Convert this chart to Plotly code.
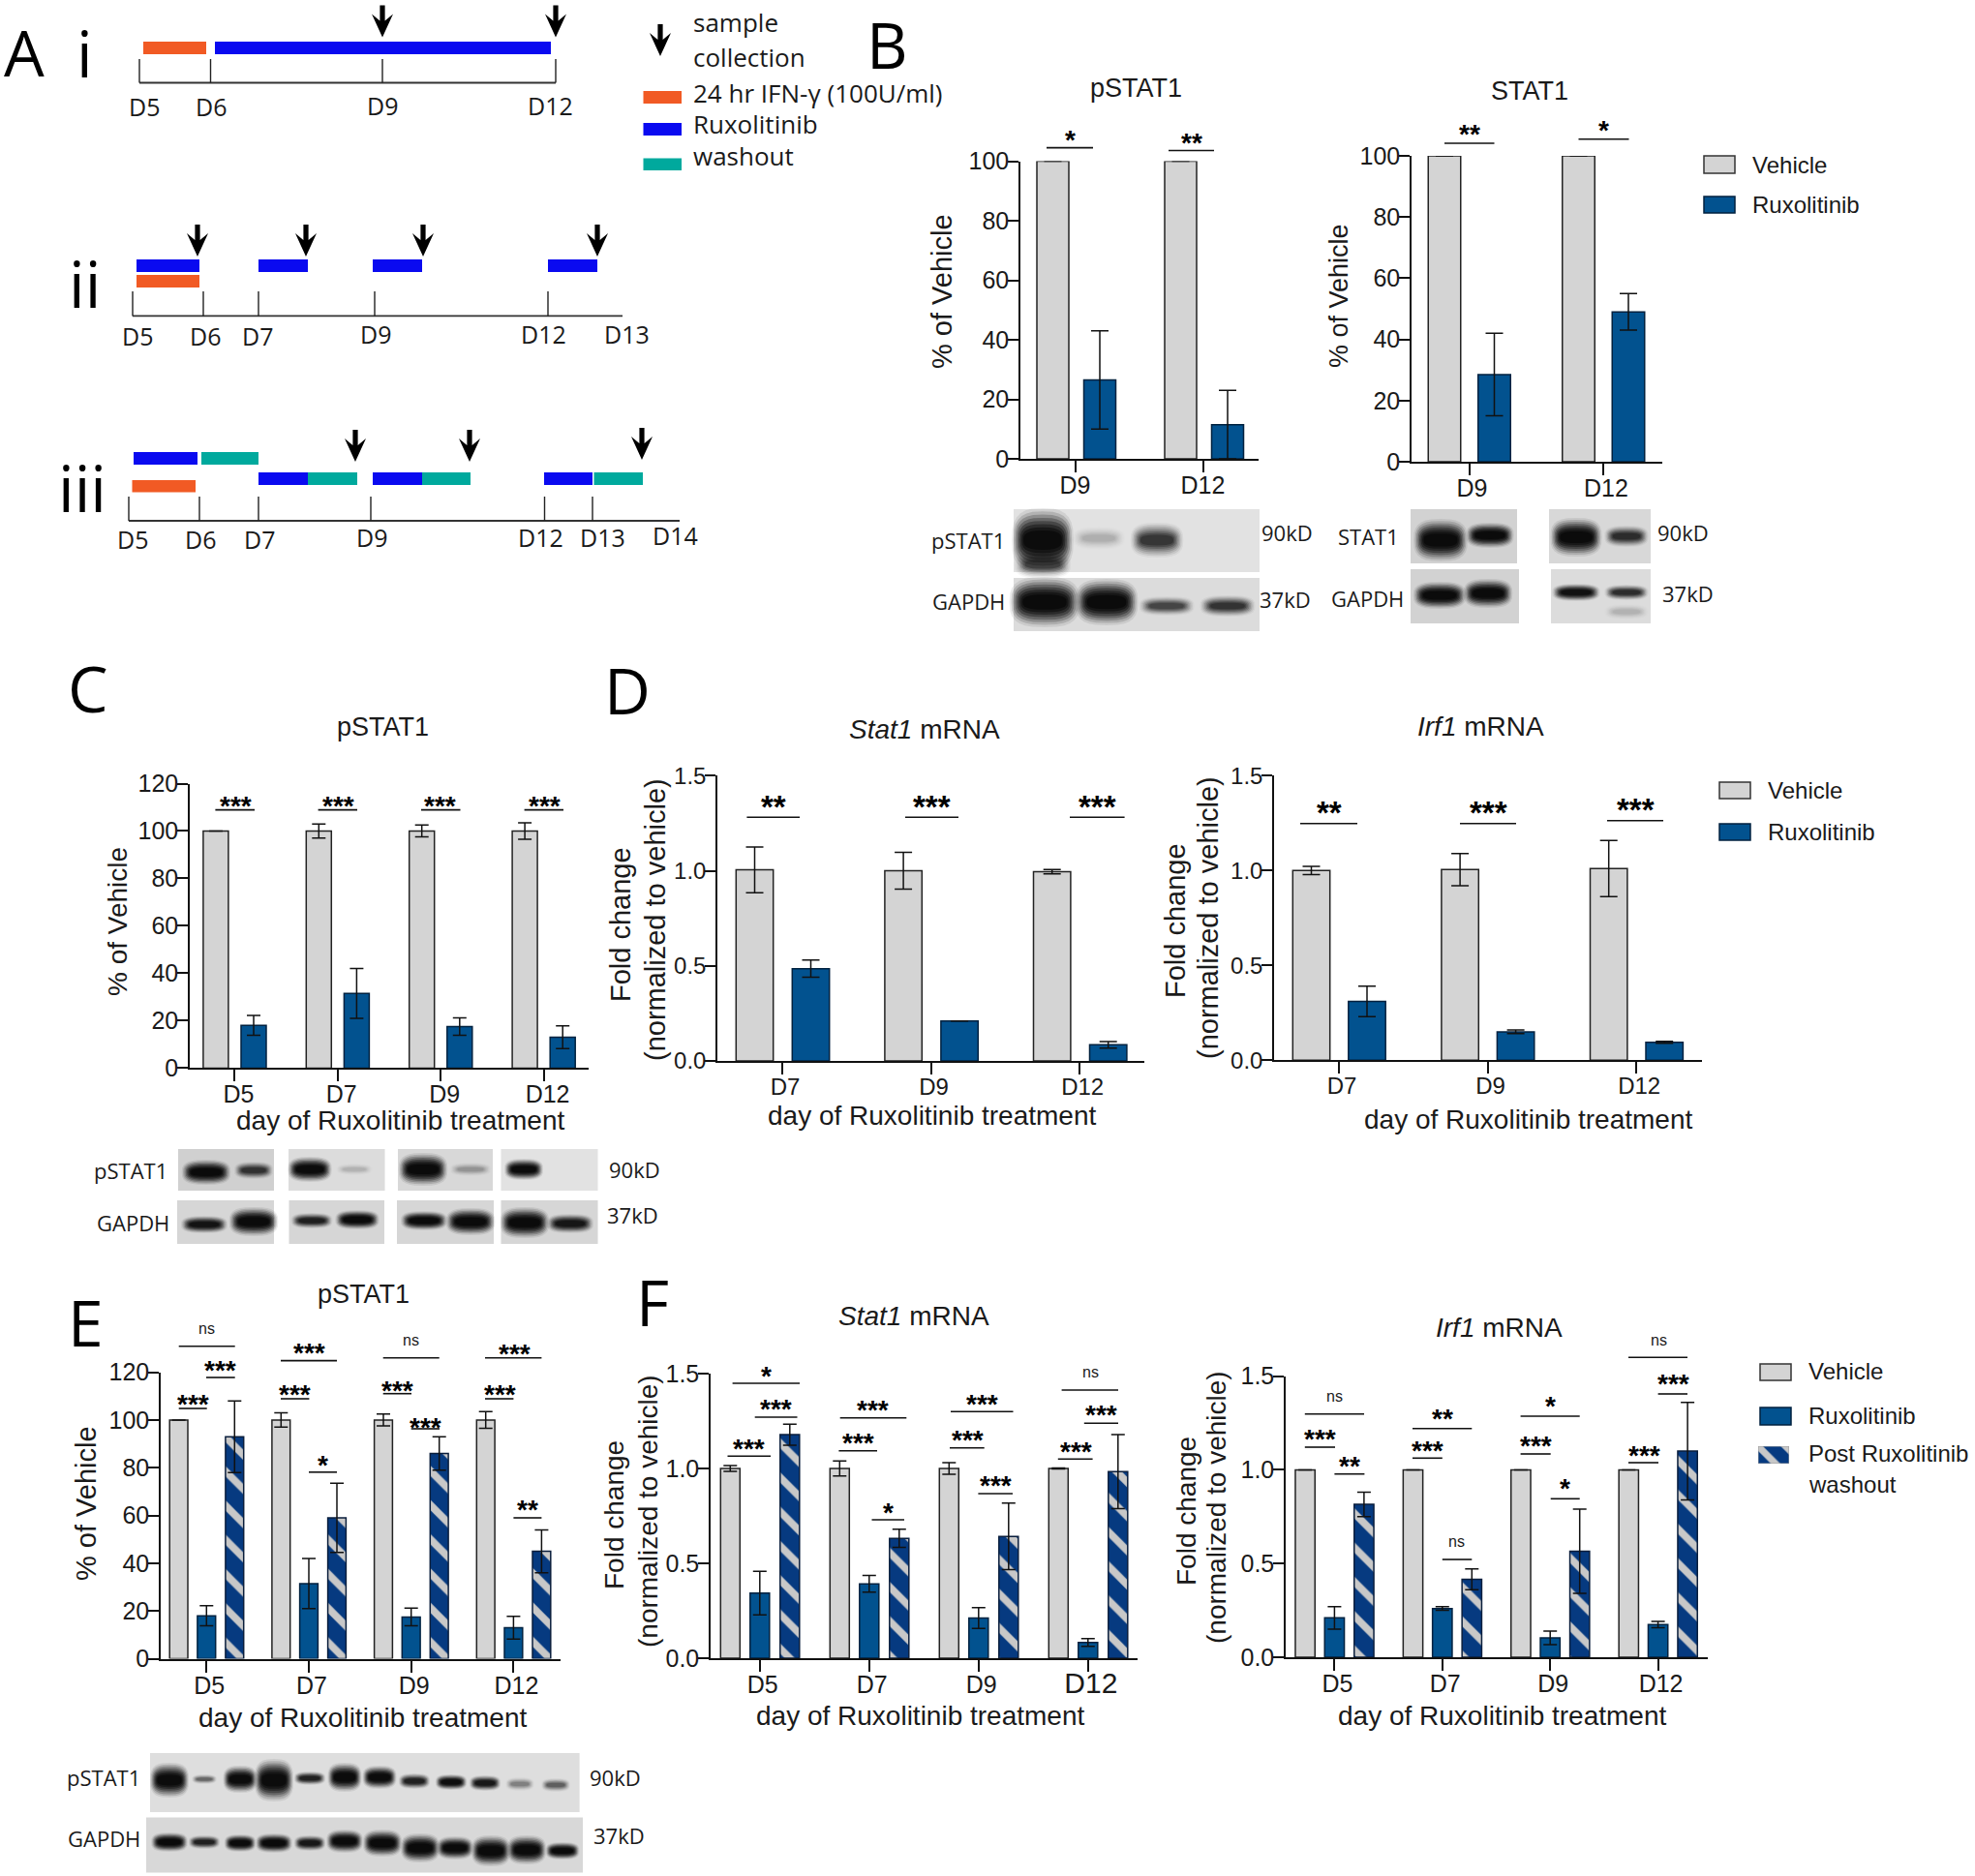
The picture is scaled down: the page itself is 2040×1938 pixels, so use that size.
import plotly.graph_objects as go
import math

W, H = 2040, 1938
SANS = "Liberation Sans"
MYR = "Open Sans"
GRAY, BLUE, HATCH_BG, HATCH_FG = "#d4d4d4", "#02528f", "#063a80", "#c8c8c8"
ORANGE, RUX, TEAL = "#f15a24", "#0a0af0", "#00a99d"

# ---------- data ----------
D2 = ["D9", "D12"]
D3 = ["D7", "D9", "D12"]
D4 = ["D5", "D7", "D9", "D12"]
D4_BIG = ["D5", "D7", "D9", '<span style="font-size:30px">D12</span>']

B1_veh = [100, 100]
B1_veh_err = [0, 0]
B1_rux = [26.5, 11.5]
B1_rux_err = [16.5, 11.5]

B2_veh = [100, 100]
B2_veh_err = [0, 0]
B2_rux = [28.5, 49]
B2_rux_err = [13.5, 6]

C_veh = [100, 100, 100, 100]
C_veh_err = [0, 3, 2.5, 3.5]
C_rux = [18, 31.5, 17.5, 13]
C_rux_err = [4.2, 10.5, 3.7, 4.8]

D1_veh = [1.005, 1.0, 0.995]
D1_veh_err = [0.12, 0.097, 0.012]
D1_rux = [0.485, 0.21, 0.085]
D1_rux_err = [0.045, 0, 0.017]

D2_veh = [1.0, 1.005, 1.01]
D2_veh_err = [0.022, 0.085, 0.148]
D2_rux = [0.31, 0.15, 0.095]
D2_rux_err = [0.08, 0.01, 0.005]

E_veh = [100, 100, 100, 100]
E_veh_err = [0, 3, 2.5, 3.5]
E_rux = [18, 31.5, 17.5, 13]
E_rux_err = [4.2, 10.5, 3.7, 4.8]
E_wash = [93, 59, 86, 45]
E_wash_err = [15, 14.5, 7, 9]

F1_veh = [1.0, 1.0, 1.0, 1.0]
F1_veh_err = [0.015, 0.04, 0.03, 0.003]
F1_rux = [0.343, 0.392, 0.212, 0.083]
F1_rux_err = [0.115, 0.044, 0.055, 0.02]
F1_wash = [1.178, 0.632, 0.642, 0.983]
F1_wash_err = [0.055, 0.048, 0.175, 0.195]

F2_veh = [1.0, 1.0, 1.0, 1.0]
F2_veh_err = [0, 0, 0, 0]
F2_rux = [0.21, 0.26, 0.103, 0.174]
F2_rux_err = [0.06, 0.01, 0.036, 0.017]
F2_wash = [0.816, 0.416, 0.566, 1.1]
F2_wash_err = [0.065, 0.055, 0.225, 0.26]

fig = go.Figure()
shapes, annots = [], []
axis_n = [0]


def px(x):
    return x / W


def py(y):
    return 1 - y / H


def txt(x, y, s, size=25, font=SANS, anchor="center", angle=0, color="#1a1a1a"):
    annots.append(dict(x=px(x), y=py(y), xref="paper", yref="paper", text=s, showarrow=False,
                       xanchor=anchor, yanchor="middle", textangle=angle, align="center",
                       font=dict(family=font, size=size, color=color)))


def rect(x0, y0, x1, y1, fill, line=None, lw=0, op=1):
    shapes.append(dict(type="rect", xref="paper", yref="paper", x0=px(x0), x1=px(x1), y0=py(y0), y1=py(y1),
                       fillcolor=fill, opacity=op, line=dict(color=line or fill, width=lw), layer="above"))


def hline(x0, x1, y, lw=1.6, color="#111"):
    shapes.append(dict(type="line", xref="paper", yref="paper", x0=px(x0), x1=px(x1), y0=py(y), y1=py(y),
                       line=dict(color=color, width=lw), layer="above"))


def vline(x, y0, y1, lw=1.4, color="#222"):
    shapes.append(dict(type="line", xref="paper", yref="paper", x0=px(x), x1=px(x), y0=py(y0), y1=py(y1),
                       line=dict(color=color, width=lw), layer="above"))


def sig(x0, x1, y, label, tx, ty, size=28):
    hline(x0, x1, y)
    if label == "ns":
        txt(tx, ty, "ns", 16)
    else:
        txt(tx, ty + size * 0.27, "<b>" + label + "</b>", size, color="#000")


def arrow(x, y0, y1):
    pts = [(x - 2.6, y0), (x + 2.6, y0), (x + 2.6, y1 - 17), (x + 11, y1 - 24), (x, y1),
           (x - 11, y1 - 24), (x - 2.6, y1 - 17)]
    p = "M " + " L ".join(f"{px(a):.5f},{py(b):.5f}" for a, b in pts) + " Z"
    shapes.append(dict(type="path", xref="paper", yref="paper", path=p, fillcolor="#000",
                       line=dict(width=0), layer="above"))


def panel(x0, x1, ytop, ybot, ymax, dtick, tick0, pitch, labels, series, bw, cap=5, fmt=None,
          tick_size=25, xlabels=None, standoff=-8, shift=0):
    axis_n[0] += 1
    n = axis_n[0]
    sx = "" if n == 1 else str(n)
    fig.update_layout({
        "xaxis" + sx: dict(domain=[px(x0), px(x1)], range=[(x0 - tick0) / pitch, (x1 - tick0) / pitch],
                           anchor="y" + sx, tickvals=list(range(len(labels))), ticktext=xlabels or labels,
                           ticks="outside", ticklen=12, tickwidth=1.5, tickcolor="#111", showline=True,
                           linewidth=1.8, linecolor="#111", showgrid=False, zeroline=False, fixedrange=True,
                           ticklabelstandoff=standoff, ticklabelshift=shift, automargin=False,
                           tickfont=dict(family=SANS, size=tick_size, color="#1a1a1a")),
        "yaxis" + sx: dict(domain=[py(ybot), py(ytop)], range=[0, ymax], anchor="x" + sx, dtick=dtick, tick0=0,
                           ticks="outside", ticklen=11, tickwidth=1.5, tickcolor="#111", showline=True,
                           linewidth=1.5, linecolor="#111", showgrid=False, zeroline=False, fixedrange=True,
                           ticklabelstandoff=-6, automargin=False,
                           tickformat=fmt, tickfont=dict(family=SANS, size=tick_size, color="#1a1a1a")),
    })
    for name, vals, errs, off, kind in series:
        marker = dict(color=GRAY, line=dict(color="#222", width=1.5))
        if kind == "rux":
            marker["color"] = BLUE
            marker["line"]["color"] = "#00213f"
        if kind == "wash":
            marker["color"] = HATCH_BG
            marker["pattern"] = dict(shape="\\", bgcolor=HATCH_BG, fgcolor=HATCH_FG, fgopacity=1,
                                     size=25, solidity=0.3)
            marker["line"]["color"] = "#0a1e3c"
        fig.add_trace(go.Bar(x=list(range(len(labels))), y=vals, name=name, width=bw / pitch,
                             offset=(off - bw / 2) / pitch, marker=marker, xaxis="x" + sx, yaxis="y" + sx,
                             showlegend=False, cliponaxis=False,
                             error_y=dict(type="data", array=errs, visible=True, color="#111",
                                          thickness=1.5, width=cap)))


def swatch_hatch(x0, y0, x1, y1):
    axis_n[0] += 1
    n = axis_n[0]
    fig.update_layout({
        f"xaxis{n}": dict(domain=[px(x0), px(x1)], range=[-0.5, 0.5], visible=False, anchor=f"y{n}", fixedrange=True),
        f"yaxis{n}": dict(domain=[py(y1), py(y0)], range=[0, 1], visible=False, anchor=f"x{n}", fixedrange=True),
    })
    fig.add_trace(go.Bar(x=[0], y=[1], width=1, xaxis=f"x{n}", yaxis=f"y{n}", showlegend=False,
                         marker=dict(color=HATCH_BG, line=dict(color="#999", width=1),
                                     pattern=dict(shape="\\", bgcolor=HATCH_BG, fgcolor=HATCH_FG, fgopacity=1,
                                                  size=20, solidity=0.35))))


def blob_path(cx, cy, rx, ry, e=0.7):
    pts = []
    for i in range(28):
        t = 2 * math.pi * i / 28
        c, s = math.cos(t), math.sin(t)
        a = cx + rx * math.copysign(abs(c) ** e, c)
        b = cy + ry * math.copysign(abs(s) ** e, s)
        pts.append(f"{px(a):.5f},{py(b):.5f}")
    return "M " + " L ".join(pts) + " Z"


def band(cx, cy, w, h, s):
    for k in range(8):
        fx = 1.3 - k * 0.07
        fy = 2.0 - k * 0.2
        shapes.append(dict(type="path", xref="paper", yref="paper",
                           path=blob_path(cx, cy, w / 2 * fx, h / 2 * fy),
                           fillcolor="#000", opacity=s * (0.08 + 0.06 * k), line=dict(width=0), layer="above"))


def blot(x0, y0, x1, y1, bands, bg="#dddddd"):
    rect(x0, y0, x1, y1, bg)
    for b in bands:
        band(*b)


# ---------- Panel A ----------
for s, x, y, sz in [("A", 25, 53, 66), ("B", 916, 45, 66), ("C", 91, 710, 66), ("D", 648, 712, 66),
                    ("E", 88, 1365, 66), ("F", 674, 1344, 66)]:
    txt(x, y, s, sz, MYR, color="#000")
for s, x, y in [("i", 87, 54), ("ii", 87, 292), ("iii", 85, 503)]:
    txt(x, y, s, 66, MYR, color="#000")


def timeline(x0, x1, y, ticks, top):
    hline(x0, x1, y, 1.8, "#333")
    for t in ticks:
        vline(t, top, y)


timeline(144, 574, 85.5, [144, 217.5, 395, 574], 61)
timeline(137, 643, 326.4, [137, 210, 267, 387, 566], 301)
timeline(133, 702, 538, [133, 206, 267, 383, 562.5, 612], 513)
for x0, x1, y0, y1, c in [
    (148, 213, 43, 56, ORANGE), (222, 569, 43, 56, RUX),
    (141, 206, 268, 281, RUX), (141, 206, 284, 297, ORANGE), (267, 318, 268, 281, RUX),
    (385, 436, 268, 281, RUX), (566, 617, 268, 281, RUX),
    (138, 204, 467, 480, RUX), (208, 267, 467, 480, TEAL), (136.5, 202, 496, 508.5, ORANGE),
    (267, 318, 488, 501, RUX), (318, 369, 488, 501, TEAL), (385, 436, 488, 501, RUX), (436, 486, 488, 501, TEAL),
    (562, 612, 488, 501, RUX), (613.5, 664, 488, 501, TEAL),
    (664.5, 704, 94, 107, ORANGE), (664.5, 704, 127, 140, RUX), (664.5, 704, 163.5, 176, TEAL),
]:
    rect(x0, y0, x1, y1, c)
for x, y0, y1 in [(395, 5.5, 38.5), (574, 5.5, 38.5), (204, 232, 265), (316, 232, 265), (437, 232, 265),
                  (617, 232, 265), (367, 444, 477), (485, 444, 477), (663, 442, 475), (682, 25, 58)]:
    arrow(x, y0, y1)
for s, x, y in [("D5", 149, 110), ("D6", 218, 110), ("D9", 395, 109), ("D12", 568, 109),
                ("D5", 142, 347), ("D6", 212, 347), ("D7", 266, 347), ("D9", 388, 345), ("D12", 561, 345),
                ("D13", 647, 345), ("D5", 137, 557), ("D6", 207, 557), ("D7", 268, 557), ("D9", 384, 555),
                ("D12", 558, 555), ("D13", 622, 555), ("D14", 697, 553)]:
    txt(x, y, s, 25, MYR)
txt(714, 23, "sample", 26, MYR, "left")
txt(714, 59, "collection", 26, MYR, "left")
txt(714, 96, "24 hr IFN-γ (100U/ml)", 26, MYR, "left")
txt(714, 128, "Ruxolitinib", 26, MYR, "left")
txt(714, 161, "washout", 26, MYR, "left")

# ---------- Panel B ----------
panel(1054, 1300, 166.5, 474, 100, 20, 1110.5, 132, D2,
      [("Vehicle", B1_veh, B1_veh_err, -23, "veh"), ("Ruxolitinib", B1_rux, B1_rux_err, 25.5, "rux")], 33, cap=9)
panel(1458, 1717, 161, 477, 100, 20, 1517.5, 138.5, D2,
      [("Vehicle", B2_veh, B2_veh_err, -25.5, "veh"), ("Ruxolitinib", B2_rux, B2_rux_err, 26, "rux")], 33.5, cap=9,
      shift=3)
txt(1173, 91, "pSTAT1", 27)
txt(1580, 94, "STAT1", 27)
txt(973, 301, "% of Vehicle", 29, angle=-90)
txt(1383, 306, "% of Vehicle", 27, angle=-90)
sig(1081, 1129, 152.6, "*", 1105, 137)
sig(1207, 1254, 155.5, "**", 1231, 140)
sig(1492, 1543.5, 148, "**", 1517.5, 131)
sig(1630.5, 1682.5, 143.7, "*", 1656.5, 127)
rect(1760, 161, 1792, 179, GRAY, "#333", 1.5)
rect(1760, 203, 1792, 220, BLUE, "#00213f", 1.5)
txt(1808, 170, "Vehicle", 24, anchor="left")
txt(1808, 211, "Ruxolitinib", 24, anchor="left")
blot(1047, 526, 1301, 591, [(1077, 558, 49, 33, 1), (1077, 583, 45, 15, 0.4), (1135, 556, 42, 12, 0.1),
                            (1195, 558, 42, 18, 0.55)], "#e2e2e2")
blot(1047, 597, 1301, 652, [(1079, 622, 56, 26, 1), (1143, 622, 50, 24, 1), (1205, 626, 44, 10, 0.45),
                            (1268, 626, 44, 11, 0.55)], "#dcdcdc")
blot(1457, 526, 1567, 582, [(1488, 558, 43, 22, 1), (1539, 553, 38, 13, 1)], "#d2d2d2")
blot(1600, 526, 1705, 582, [(1628, 555, 41, 20, 1), (1680, 554, 35, 11, 0.6)], "#d8d8d8")
blot(1457, 588, 1569, 644, [(1487, 615, 42, 14, 1), (1537, 613, 39, 15, 1)], "#d2d2d2")
blot(1602, 588, 1705, 644, [(1628, 612, 38, 9, 0.9), (1680, 612, 35, 8, 0.6), (1680, 632, 35, 8, 0.08)], "#dcdcdc")
txt(1000, 558, "pSTAT1", 22, MYR)
txt(1000, 621, "GAPDH", 22, MYR)
txt(1329, 550, "90kD", 22, MYR)
txt(1327, 619, "37kD", 22, MYR)
txt(1413, 554, "STAT1", 22, MYR)
txt(1412, 618, "GAPDH", 22, MYR)
txt(1738, 550, "90kD", 22, MYR)
txt(1743, 613, "37kD", 22, MYR)

# ---------- Panel C ----------
panel(196, 608, 809.5, 1103.4, 120, 20, 242.4, 106.4, D4,
      [("Vehicle", C_veh, C_veh_err, -19.5, "veh"), ("Ruxolitinib", C_rux, C_rux_err, 19.6, "rux")], 26, cap=7,
      shift=4)
txt(395, 751, "pSTAT1", 27)
txt(414, 1157, "day of Ruxolitinib treatment", 28)
txt(121, 952, "% of Vehicle", 28, angle=-90)
for a, b, c, t in [(222.4, 263, 243, "***"), (328.6, 369, 349, "***"), (435, 475.5, 454, "***"), (541.6, 582, 562, "***")]:
    sig(a, b, 836.6, t, c, 825)
blot(184, 1187, 283, 1230, [(213, 1211, 39, 13, 1), (262, 1209, 31, 9, 0.55)], "#d0d0d0")
blot(298, 1187, 397.5, 1230, [(320, 1208, 35, 13, 1), (366, 1208, 29, 6, 0.08)], "#dcdcdc")
blot(411, 1187, 509, 1230, [(437, 1208, 39, 17, 1), (486, 1208, 33, 7, 0.15)], "#d8d8d8")
blot(517.5, 1187, 617.5, 1230, [(541, 1208, 31, 11, 1)], "#e2e2e2")
blot(183, 1240, 283, 1285, [(211, 1265, 37, 9, 0.85), (262, 1262, 39, 15, 1)], "#d6d6d6")
blot(298.5, 1240, 397, 1285, [(322, 1261, 33, 8, 0.7), (369, 1260, 35, 10, 1)], "#d6d6d6")
blot(410, 1240, 510, 1285, [(438, 1261, 37, 10, 1), (486, 1262, 39, 14, 1)], "#d6d6d6")
blot(517.5, 1240, 617.5, 1285, [(542, 1263, 39, 16, 1), (589, 1264, 37, 10, 0.8)], "#d6d6d6")
txt(135, 1209, "pSTAT1", 22, MYR)
txt(137, 1263, "GAPDH", 22, MYR)
txt(655, 1208, "90kD", 22, MYR)
txt(653, 1255, "37kD", 22, MYR)

# ---------- Panel D ----------
panel(741, 1182, 801.3, 1096, 1.5, 0.5, 808, 153.6, D3,
      [("Vehicle", D1_veh, D1_veh_err, -28.5, "veh"), ("Ruxolitinib", D1_rux, D1_rux_err, 29.5, "rux")], 38.4,
      cap=9, fmt=".1f", tick_size=24, shift=3)
panel(1316, 1758, 801.3, 1095.3, 1.5, 0.5, 1383, 153.6, D3,
      [("Vehicle", D2_veh, D2_veh_err, -28.5, "veh"), ("Ruxolitinib", D2_rux, D2_rux_err, 29, "rux")], 38.4,
      cap=9, fmt=".1f", tick_size=24, shift=3)
txt(955, 753, "<i>Stat1</i> mRNA", 28)
txt(1529, 750, "<i>Irf1</i> mRNA", 28)
txt(962.5, 1152, "day of Ruxolitinib treatment", 28)
txt(1579, 1156, "day of Ruxolitinib treatment", 28)
txt(641, 955, "Fold change", 29, angle=-90)
txt(677, 950, "(normalized to vehicle)", 29, angle=-90)
txt(1214, 951, "Fold change", 29, angle=-90)
txt(1248, 948, "(normalized to vehicle)", 29, angle=-90)
for a, b, c, t, ly, ty in [(771.4, 826, 799, "**", 844.3, 825), (935, 990, 962.5, "***", 844.3, 825),
                           (1105, 1161.6, 1133, "***", 844.3, 825), (1343, 1402, 1373, "**", 850.7, 831),
                           (1508, 1566, 1537, "***", 850.7, 831), (1660, 1718, 1689, "***", 847.7, 828)]:
    sig(a, b, ly, t, c, ty, 33)
rect(1776, 808, 1808, 825, GRAY, "#333", 1.5)
rect(1776, 851, 1808, 868, BLUE, "#00213f", 1.5)
txt(1824, 816, "Vehicle", 24, anchor="left")
txt(1824, 859, "Ruxolitinib", 24, anchor="left")

# ---------- Panel E ----------
panel(166, 578.6, 1417.6, 1713.6, 120, 20, 213.3, 105.7, D4,
      [("Vehicle", E_veh, E_veh_err, -28.7, "veh"), ("Ruxolitinib", E_rux, E_rux_err, 0, "rux"),
       ("Post Ruxolitinib washout", E_wash, E_wash_err, 29, "wash")], 18.8, cap=7, shift=3)
txt(375, 1337, "pSTAT1", 27)
txt(375, 1774, "day of Ruxolitinib treatment", 28)
txt(89, 1553, "% of Vehicle", 29, angle=-90)
for a, b, y, t, tx, ty in [
    (184.7, 242.7, 1390.7, "ns", 213, 1372), (213, 242.7, 1423, "***", 227.5, 1408),
    (184.7, 213.7, 1455, "***", 199, 1442.5), (290, 348, 1405.6, "***", 319, 1389.5),
    (290, 319.4, 1445, "***", 304.3, 1432.5), (319, 348, 1520.8, "*", 333.7, 1505.6),
    (395.7, 453.7, 1402.8, "ns", 424.7, 1384.7), (395.7, 425, 1439.7, "***", 410.4, 1429),
    (424.7, 454, 1476, "***", 439, 1466.6), (501, 559.4, 1402.8, "***", 531, 1391),
    (501, 530.4, 1445, "***", 516.5, 1432.5), (530.4, 559.4, 1568, "**", 545, 1552),
]:
    sig(a, b, y, t, tx, ty)
blot(155, 1811, 598.6, 1872, [
    (175, 1839, 31, 18, 1), (211, 1838, 20, 5, 0.3), (248, 1838, 27, 14, 1), (283, 1839, 31, 22, 1),
    (320, 1837, 25, 7, 0.7), (356, 1836, 27, 15, 1), (392, 1836, 27, 12, 1), (428, 1840, 25, 8, 0.7),
    (466, 1841, 25, 8, 0.95), (501, 1842, 25, 8, 0.8), (537, 1843, 23, 7, 0.22), (574, 1844, 23, 7, 0.33)],
    "#dedede")
blot(151, 1877.5, 602, 1934.5, [
    (175, 1903, 29, 10, 1), (211, 1903, 25, 7, 0.7), (248, 1904, 25, 9, 1), (283, 1904, 29, 10, 1),
    (320, 1904, 25, 8, 0.8), (356, 1902, 29, 12, 1), (395, 1904, 31, 14, 1), (434, 1909, 31, 15, 1),
    (470, 1909, 29, 12, 1), (507, 1912, 31, 16, 1), (544, 1911, 31, 15, 1), (581, 1912, 27, 9, 1)], "#d8d8d8")
txt(107, 1836, "pSTAT1", 22, MYR)
txt(107, 1899, "GAPDH", 22, MYR)
txt(635, 1836, "90kD", 22, MYR)
txt(639, 1896, "37kD", 22, MYR)

# ---------- Panel F ----------
panel(734, 1175, 1419, 1713, 1.5, 0.5, 784.8, 113, D4,
      [("Vehicle", F1_veh, F1_veh_err, -30.5, "veh"), ("Ruxolitinib", F1_rux, F1_rux_err, 0, "rux"),
       ("Post Ruxolitinib washout", F1_wash, F1_wash_err, 31, "wash")], 20, cap=7, fmt=".1f", xlabels=D4_BIG, shift=3)
panel(1328, 1763.5, 1421.7, 1712, 1.5, 0.5, 1378.4, 111.4, D4,
      [("Vehicle", F2_veh, F2_veh_err, -30.3, "veh"), ("Ruxolitinib", F2_rux, F2_rux_err, 0, "rux"),
       ("Post Ruxolitinib washout", F2_wash, F2_wash_err, 30.5, "wash")], 20.3, cap=7, fmt=".1f", shift=3)
txt(944, 1359, "<i>Stat1</i> mRNA", 28)
txt(1548, 1371, "<i>Irf1</i> mRNA", 28)
txt(951, 1772, "day of Ruxolitinib treatment", 28)
txt(1552, 1772, "day of Ruxolitinib treatment", 28)
txt(634, 1565, "Fold change", 28, angle=-90)
txt(669, 1561, "(normalized to vehicle)", 28, angle=-90)
txt(1225, 1561, "Fold change", 28, angle=-90)
txt(1256, 1557, "(normalized to vehicle)", 28, angle=-90)
for a, b, y, t, tx, ty in [
    (756.6, 826, 1429, "*", 791, 1414), (779.7, 823.5, 1464, "***", 801.6, 1448),
    (751.5, 796, 1504.3, "***", 773.8, 1489), (867.7, 936.3, 1464.7, "***", 901.8, 1448.7),
    (866.4, 906, 1498.7, "***", 886, 1482.7), (900.5, 934, 1570, "*", 917.3, 1554.7),
    (982, 1046.5, 1458.3, "***", 1014, 1442.7), (981, 1016.7, 1495.7, "***", 999, 1480),
    (1010.4, 1046, 1543, "***", 1028.5, 1527), (1096.6, 1155, 1436, "ns", 1126, 1417.7),
    (1119.8, 1155, 1470.3, "***", 1137.5, 1454.3), (1092.8, 1128.6, 1507.3, "***", 1111, 1491.7),
    (1347.8, 1409, 1460.7, "ns", 1378.4, 1442), (1347.8, 1379, 1495, "***", 1363.4, 1479),
    (1378.4, 1409.4, 1522.7, "**", 1394, 1507), (1459, 1520.3, 1475.7, "**", 1490, 1457.7),
    (1459, 1489.8, 1506.3, "***", 1474.8, 1490.7), (1489.8, 1520.3, 1611, "ns", 1504.8, 1592.7),
    (1570.6, 1631.7, 1463, "*", 1601.7, 1445), (1570.6, 1601.7, 1502, "***", 1586, 1486),
    (1601.7, 1631.7, 1548.3, "*", 1616.7, 1529.7), (1682, 1743, 1402.3, "ns", 1713, 1384.7),
    (1712.6, 1743, 1440, "***", 1728, 1421.7), (1682, 1713, 1511, "***", 1698, 1495.7),
]:
    sig(a, b, y, t, tx, ty)
rect(1818, 1409, 1850, 1426, GRAY, "#333", 1.5)
rect(1818, 1454, 1850, 1472, BLUE, "#00213f", 1.5)
swatch_hatch(1816, 1494, 1848, 1512)
txt(1866, 1416, "Vehicle", 24, anchor="left")
txt(1866, 1462, "Ruxolitinib", 24, anchor="left")
txt(1866, 1501, "Post Ruxolitinib", 24, anchor="left")
txt(1866, 1533, "washout", 24, anchor="left")

fig.update_layout(template="none", width=W, height=H, margin=dict(l=0, r=0, t=0, b=0, pad=0, autoexpand=False),
                  autosize=False, barmode="overlay",
                  plot_bgcolor="white", paper_bgcolor="white", showlegend=False,
                  shapes=shapes, annotations=annots)
fig.write_html("out.html", config={"displayModeBar": False},
               post_script="document.body.style.margin='0';document.documentElement.style.overflow='hidden';")
